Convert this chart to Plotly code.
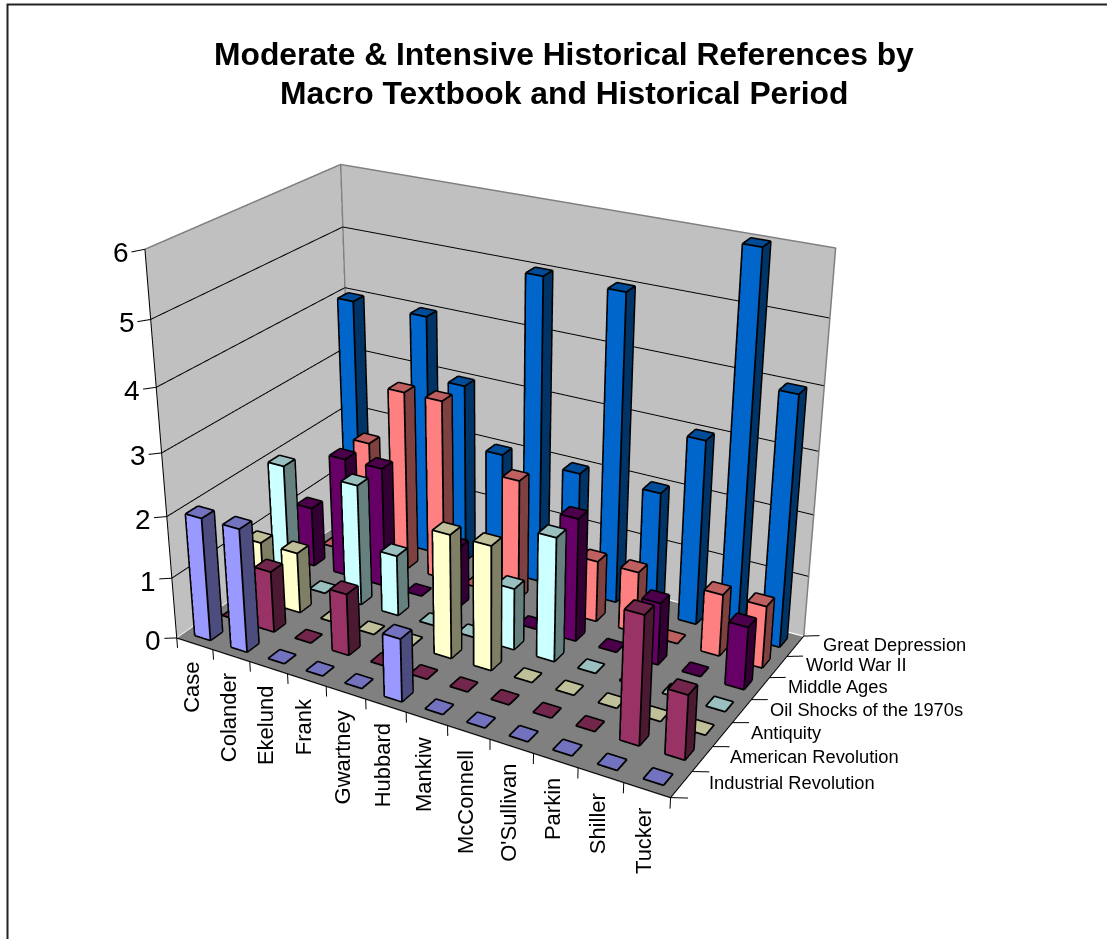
import math
import plotly.graph_objects as go

# Chart data
textbooks = ["Case","Colander","Ekelund","Frank","Gwartney","Hubbard","Mankiw","McConnell","O'Sullivan","Parkin","Shiller","Tucker"]
periods = ["Industrial Revolution","American Revolution","Antiquity","Oil Shocks of the 1970s","Middle Ages","World War II","Great Depression"]
title_lines = ["Moderate & Intensive Historical References by", "Macro Textbook and Historical Period"]
industrial  = [2,2,0,0,0,1,0,0,0,0,0,0]
american    = [0,1,0,1,0,0,0,0,0,0,2,1]
antiquity   = [1,1,0,0,0,2,2,0,0,0,0,0]
oil_shocks  = [2,0,2,1,0,0,1,2,0,0,0,0]
middle_ages = [1,2,2,0,1,0,0,2,0,1,0,1]
world_war   = [0,2,3,3,0,2,0,1,1,0,1,1]
depression  = [4,0,4,3,2,5,2,5,2,3,6,4]
series_values = [industrial,american,antiquity,oil_shocks,middle_ages,world_war,depression]
series_colors = ["#9999FF","#993366","#FFFFCC","#CCFFFF","#660066","#FF8080","#0066CC"]

# Page and camera geometry
W, H = 1107, 939
LAYOUT_H = 1538          # tall canvas gives the long lens; the page shows its window only
TOP = -321               # canvas offset on the page
CX = 489.5               # horizontal optical centre in pixels
EYE = (1.963, -3.416, 1.832)
YAW, PITCH = 2.093, -0.433
BOX_X, BOX_Y = 1.329, 0.775

look = (math.cos(PITCH)*math.cos(YAW), math.cos(PITCH)*math.sin(YAW), math.sin(PITCH))
dist = math.sqrt(sum(e*e for e in EYE))
CENTER = tuple(e + d*dist for e, d in zip(EYE, look))

NX, NY, NZ = 12, 7, 6
XR, YR, ZR = (-1, 13), (-1, 8), (-1, 7)
aspect = dict(x=BOX_X*(XR[1]-XR[0])/NX, y=BOX_Y*(YR[1]-YR[0])/NY, z=(ZR[1]-ZR[0])/NZ)

def px(x): return x/W
def py(y): return 1-(y-TOP)/LAYOUT_H

def shade(c, k):
    r, g, b = int(c[1:3],16), int(c[3:5],16), int(c[5:7],16)
    return "rgb(%d,%d,%d)" % (r*k, g*k, b*k)

LIGHT = dict(ambient=1, diffuse=0, specular=0, roughness=1, fresnel=0)
fig = go.Figure()

# Walls and floor, pushed a hair behind the lines and bars
e = 0.015
wx = [-e,-e,-e,-e, -e,NX,NX,-e, -e,NX,NX,-e]
wy = [0,NY,NY,0, NY+e,NY+e,NY+e,NY+e, 0,0,NY,NY]
wz = [0,0,NZ,NZ, 0,0,NZ,NZ, -e,-e,-e,-e]
fig.add_trace(go.Mesh3d(x=wx, y=wy, z=wz, i=[0,0,4,4,8,8], j=[1,2,5,6,9,10], k=[2,3,6,7,10,11],
    facecolor=["#C0C0C0"]*4+["#808080"]*2, flatshading=True, lighting=LIGHT, hoverinfo="skip"))

def lines(xs, ys, zs, color, width):
    fig.add_trace(go.Scatter3d(x=xs, y=ys, z=zs, mode="lines", line=dict(color=color, width=width),
                               hoverinfo="skip", showlegend=False))

# Value gridlines on the two back walls
gx, gy, gz = [], [], []
for z in range(1, NZ):
    gx += [0,0,NX,None]; gy += [0,NY,NY,None]; gz += [z,z,z,None]
lines(gx, gy, gz, "#000000", 2)
# Wall rims
lines([0,0,NX,NX,None,0,0], [0,NY,NY,NY,None,NY,NY], [NZ,NZ,NZ,0,None,NZ,0], "#808080", 3)

# Axis lines and tick marks
ax_x, ax_y, ax_z = [0,0,None,0,NX,NX,None], [0,0,None,0,0,NY,None], [0,NZ,None,0,0,0,None]
for z in range(NZ+1):
    ax_x += [0,-0.36,None]; ax_y += [0,0,None]; ax_z += [z,z-0.078,None]
for i in range(NX+1):
    ax_x += [i,i,None]; ax_y += [0,0,None]; ax_z += [0,-0.17,None]
for j in range(NY+1):
    ax_x += [NX,NX+0.36,None]; ax_y += [j,j,None]; ax_z += [0,0.078,None]
lines(ax_x, ax_y, ax_z, "#000000", 2)

# One box per value; zero values leave just the flat top
BW = 0.42
ox, oy, oz = [], [], []
for s, (vals, col) in enumerate(zip(series_values, series_colors)):
    X, Y, Z, I, J, K, FC = [], [], [], [], [], [], []
    for c, v in enumerate(vals):
        x0, x1 = c+.5-BW/2, c+.5+BW/2
        y0, y1 = s+.5-BW/2, s+.5+BW/2
        n = len(X)
        X += [x0,x1,x1,x0,x0,x1,x1,x0]; Y += [y0,y0,y1,y1,y0,y0,y1,y1]; Z += [0,0,0,0,v,v,v,v]
        faces = [(4,5,6,.75),(4,6,7,.75)]
        if v > 0:
            faces += [(0,1,5,1),(0,5,4,1),(1,2,6,.5),(1,6,5,.5)]
        for a, b, d, k in faces:
            I.append(n+a); J.append(n+b); K.append(n+d); FC.append(shade(col, k))
        g = 0.008
        a0, a1, b0, b1, t = x0-g, x1+g, y0-g, y1+g, v+g
        edges = [((a0,b0,t),(a1,b0,t)), ((a1,b0,t),(a1,b1,t)), ((a1,b1,t),(a0,b1,t)), ((a0,b1,t),(a0,b0,t))]
        if v > 0:
            edges += [((a0,b0,0),(a0,b0,t)), ((a1,b0,0),(a1,b0,t)), ((a1,b1,0),(a1,b1,t)),
                      ((a0,b0,0),(a1,b0,0)), ((a1,b0,0),(a1,b1,0))]
        for p, q in edges:
            ox += [p[0],q[0],None]; oy += [p[1],q[1],None]; oz += [p[2],q[2],None]
    fig.add_trace(go.Mesh3d(x=X, y=Y, z=Z, i=I, j=J, k=K, facecolor=FC, flatshading=True, lighting=LIGHT,
                            hoverinfo="skip", name=periods[s]))
lines(ox, oy, oz, "#000000", 3.6)

# Axis labels
ann = []
for z in range(NZ+1):
    ann.append(dict(x=0, y=0, z=z, text=str(z), showarrow=False, xanchor="right", xshift=-14, yshift=-3,
                    font=dict(size=28, color="#000")))
for i, t in enumerate(textbooks):
    ann.append(dict(x=i+.5, y=0, z=0, text=t, showarrow=False, textangle=-90, yanchor="top", yshift=-16, xshift=-3,
                    font=dict(size=22, color="#000")))
for j, t in enumerate(periods):
    ann.append(dict(x=NX, y=j+.5, z=0, text=t, showarrow=False, xanchor="left", xshift=26, yshift=2,
                    font=dict(size=18.3, color="#000")))

title_ann = [dict(x=px(563.5), y=py(yc), xref="paper", yref="paper", showarrow=False, yanchor="middle",
                  text="<b>%s</b>" % t, font=dict(family="Liberation Sans", size=31.8, color="#000"))
             for t, yc in zip(title_lines, (54, 93))]

fig.update_layout(width=W, height=LAYOUT_H, margin=dict(l=0,r=0,t=0,b=0), paper_bgcolor="#fff", showlegend=False,
    font=dict(family="Liberation Sans"),
    scene=dict(domain=dict(x=[0,2*CX/W], y=[0,1]),
        xaxis=dict(visible=False, range=list(XR)), yaxis=dict(visible=False, range=list(YR)), zaxis=dict(visible=False, range=list(ZR)),
        aspectmode="manual", aspectratio=aspect,
        camera=dict(eye=dict(x=EYE[0],y=EYE[1],z=EYE[2]), center=dict(x=CENTER[0],y=CENTER[1],z=CENTER[2]),
                    up=dict(x=0,y=0,z=1), projection=dict(type="perspective")),
        annotations=ann),
    annotations=title_ann,
    shapes=[dict(type="rect", xref="paper", yref="paper", x0=px(7.5), x1=px(1140), y0=py(1000), y1=py(4.5),
                 line=dict(color="#222", width=2))])
fig.write_html("out.html", config=dict(displayModeBar=False),
    post_script="var g=document.getElementById('{plot_id}');g.style.position='absolute';g.style.left='0';g.style.top='%dpx';"
                "document.documentElement.style.overflow='hidden';document.body.style.overflow='hidden';" % TOP)
